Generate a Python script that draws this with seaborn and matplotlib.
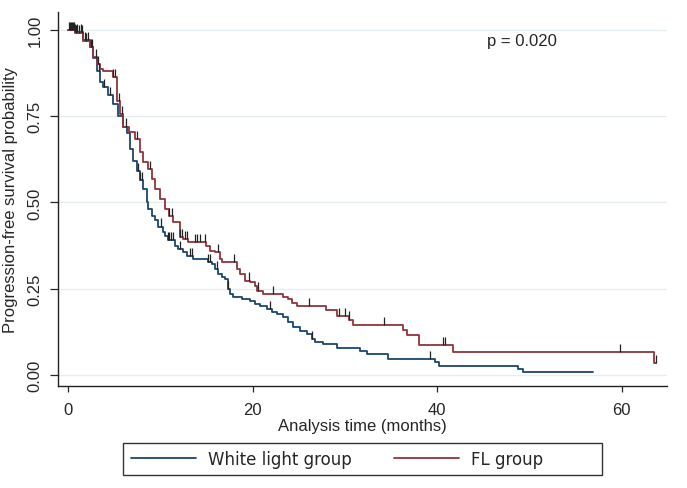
import numpy as np
import pandas as pd
import matplotlib
matplotlib.use("Agg")
import matplotlib.pyplot as plt
import seaborn as sns
from matplotlib.lines import Line2D
from matplotlib.patches import Rectangle

# ============================================================
# 数据 (从原图读取的 KM 阶梯点)
# ============================================================
wl_time = [0, 0.8, 1.6, 2.4, 2.7, 3.1, 3.5, 3.8, 4.3, 4.9, 5.4, 6.0, 6.4, 6.7, 7.0, 7.5,
           7.8, 8.1, 8.6, 8.7, 9.1, 9.4, 9.8, 10.3, 10.5, 10.8, 11.6, 11.9, 12.5, 12.9,
           13.5, 15.2, 15.6, 15.9, 16.3, 16.7, 17.0, 17.3, 17.6, 17.9, 18.9, 19.7, 20.3,
           20.8, 21.6, 22.1, 22.6, 23.3, 23.8, 24.4, 25.1, 25.9, 26.4, 26.8, 27.6, 29.1,
           31.6, 32.4, 34.7, 39.8, 40.2, 48.8, 49.3, 56.9]
wl_surv = [1.0, 0.994, 0.97, 0.95, 0.92, 0.88, 0.85, 0.835, 0.81, 0.786, 0.75, 0.72, 0.70,
           0.655, 0.62, 0.59, 0.565, 0.54, 0.50, 0.48, 0.46, 0.45, 0.43, 0.414, 0.403,
           0.39, 0.374, 0.365, 0.356, 0.345, 0.336, 0.327, 0.322, 0.307, 0.293, 0.284,
           0.278, 0.249, 0.235, 0.226, 0.22, 0.215, 0.206, 0.20, 0.191, 0.183, 0.177,
           0.168, 0.154, 0.139, 0.128, 0.12, 0.104, 0.096, 0.09, 0.078, 0.07, 0.061,
           0.046, 0.038, 0.026, 0.017, 0.009, 0.009]
wl_censor = [0.1, 0.3, 0.5, 0.8, 1.0, 1.4, 1.8, 2.2, 2.5, 3.0, 3.4, 3.9, 4.5, 7.6, 7.8,
             8.0, 10.1, 10.8, 11.0, 11.2, 11.4, 12.1, 13.2, 13.4, 15.2, 15.4, 16.1, 17.3,
             21.9, 26.4, 39.2]

fl_time = [0, 0.8, 1.6, 2.4, 2.7, 3.1, 3.5, 3.8, 4.9, 5.3, 5.6, 6.0, 6.6, 7.3, 7.8, 8.1,
           8.7, 9.1, 9.4, 10.0, 10.5, 11.0, 11.4, 12.1, 12.5, 13.0, 15.0, 15.4, 15.9, 16.5,
           16.7, 18.3, 18.6, 19.2, 19.7, 20.3, 20.5, 21.1, 23.3, 23.8, 24.3, 24.8, 28.0,
           29.1, 30.4, 30.9, 36.3, 36.7, 38.0, 41.7, 63.5, 63.7]
fl_surv = [1.0, 0.99, 0.968, 0.95, 0.922, 0.90, 0.887, 0.881, 0.864, 0.794, 0.757, 0.72,
           0.704, 0.684, 0.646, 0.617, 0.597, 0.568, 0.539, 0.51, 0.48, 0.461, 0.443, 0.40,
           0.394, 0.386, 0.375, 0.36, 0.356, 0.336, 0.327, 0.307, 0.293, 0.273, 0.27, 0.258,
           0.244, 0.235, 0.226, 0.22, 0.21, 0.20, 0.188, 0.171, 0.16, 0.145, 0.13, 0.116,
           0.087, 0.067, 0.035, 0.035]
fl_censor = [0.2, 0.4, 0.6, 0.9, 1.2, 1.5, 2.0, 2.6, 3.2, 4.9, 5.1, 5.5, 5.9, 6.3, 7.5,
             8.9, 11.0, 11.3, 12.1, 12.4, 12.7, 12.9, 13.8, 14.0, 14.3, 14.8, 16.3, 18.0,
             19.6, 20.6, 22.2, 26.1, 29.4, 30.0, 30.5, 34.2, 40.6, 40.8, 59.8, 63.7]

groups = ["White light group", "FL group"]
colors = {"White light group": "#1a476f", "FL group": "#90353b"}
p_text = "p = 0.020"

# ============================================================
# 绘图
# ============================================================
sns.set_style("ticks")
plt.rcParams['font.family'] = ['Liberation Sans', 'DejaVu Sans']
FONT_SIZE = 12

df = pd.concat([
    pd.DataFrame({"time": wl_time, "surv": wl_surv, "group": groups[0]}),
    pd.DataFrame({"time": fl_time, "surv": fl_surv, "group": groups[1]}),
], ignore_index=True)

fig = plt.figure(figsize=(6.87, 4.89), dpi=100)
ax = fig.add_axes([58 / 687, 1 - 387 / 489, (667 - 58) / 687, (387 - 13) / 489])

ax.yaxis.grid(True, color="#e4edf0", lw=1.0)
ax.set_axisbelow(True)

sns.lineplot(data=df, x="time", y="surv", hue="group", palette=colors,
             drawstyle="steps-post", estimator=None, sort=False, legend=False,
             lw=1.3, ax=ax, zorder=3)

# 删失标记：从曲线向上的短竖线
for t_list, s_list, c_list in [(wl_time, wl_surv, wl_censor), (fl_time, fl_surv, fl_censor)]:
    idx = np.searchsorted(np.array(t_list), np.array(c_list), side="right") - 1
    s_at = np.array(s_list)[idx]
    ax.vlines(c_list, s_at, s_at + 0.024, color="#222222", lw=0.9, zorder=4)

ax.set_xlim(-1.08, 64.9)
ax.set_ylim(-0.032, 1.052)
ax.set_xticks([0, 20, 40, 60])
ax.set_yticks([0, 0.25, 0.5, 0.75, 1.0])
ax.set_yticklabels(["0.00", "0.25", "0.50", "0.75", "1.00"], rotation=90, va="center")
ax.tick_params(axis="y", length=6, width=0.9, pad=5, labelsize=FONT_SIZE)
ax.tick_params(axis="x", length=4.5, width=0.9, pad=7, labelsize=FONT_SIZE)
sns.despine(ax=ax)
for sp in ["left", "bottom"]:
    ax.spines[sp].set_linewidth(1.0)
    ax.spines[sp].set_color("#222222")

ax.set_xlabel("Analysis time (months)", fontsize=FONT_SIZE, labelpad=1)
ax.set_ylabel("Progression-free survival probability", fontsize=FONT_SIZE, labelpad=7)

ax.text(45.4, 0.97, p_text, fontsize=FONT_SIZE, va="center", ha="left")

# 图例 (Stata 风格方框)
fig.patches.append(Rectangle((123 / 687, 1 - 476 / 489), (602 - 123) / 687, 32 / 489,
                             transform=fig.transFigure, fill=False, edgecolor="#333333",
                             lw=1.0))
handles = [Line2D([0], [0], color=colors[g], lw=1.3) for g in groups]
fig.legend(handles, groups, loc="center left", bbox_to_anchor=(116 / 687, 1 - 460 / 489),
           ncol=2, frameon=False, handlelength=3.9, handletextpad=0.75, columnspacing=2.5,
           prop={"family": "DejaVu Sans", "size": FONT_SIZE})

fig.savefig("out.png", dpi=100)
